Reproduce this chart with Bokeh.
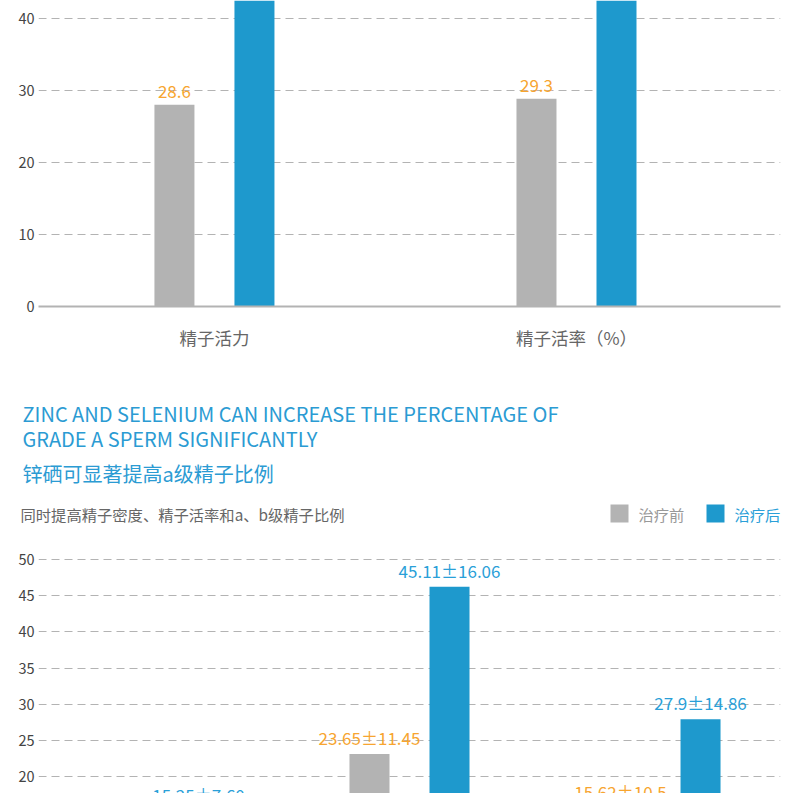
from bokeh.plotting import figure
from bokeh.layouts import column, row
from bokeh.models import Range1d, FixedTicker, ColumnDataSource
from bokeh.core.properties import value
from bokeh.transform import dodge
from bokeh.embed import file_html
from bokeh.resources import INLINE

FONT = "Noto Sans CJK SC"
GRAY = "#b3b3b3"
BLUE = "#1e99cd"
ORANGE = "#f7a530"
BLUE_TXT = "#2a9fd8"
TITLE_BLUE = "#2b9bd3"

# ---------------- data ----------------
top_categories = ["精子活力", "精子活率（%）"]
top_before = [28.05, 28.9]
top_after = [49.5, 52.0]
top_before_labels = ["28.6", "29.3"]
top_after_labels = ["", ""]
top_yticks = [0, 10, 20, 30, 40]

bottom_categories = ["精子密度", "精子活率", "a、b级精子比例"]
bottom_before = [9.8, 23.1, 15.62]
bottom_after = [15.25, 46.25, 27.9]
bottom_before_labels = ["", "23.65±11.45", "15.62±10.5"]
bottom_after_labels = ["15.25±7.60", "45.11±16.06", "27.9±14.86"]
bottom_yticks = [0, 5, 10, 15, 20, 25, 30, 35, 40, 45, 50]

legend_labels = ["治疗前", "治疗后"]
title_lines = ["ZINC AND SELENIUM CAN INCREASE THE PERCENTAGE OF",
               "GRADE A SPERM SIGNIFICANTLY"]
title_cn = "锌硒可显著提高a级精子比例"
subtitle = "同时提高精子密度、精子活率和a、b级精子比例"

W = 800
BL, BR = 38, 20


def style_bar_fig(p, yticks):
    p.outline_line_color = None
    p.xgrid.visible = False
    p.ygrid.grid_line_color = GRAY
    p.ygrid.grid_line_dash = "8 5"
    p.ygrid.grid_line_width = 1
    p.yaxis.ticker = FixedTicker(ticks=yticks)
    p.yaxis.axis_line_color = None
    p.yaxis.major_tick_out = 0
    p.yaxis.major_tick_in = 0
    p.yaxis.minor_tick_line_color = None
    p.yaxis.major_label_text_font = FONT
    p.yaxis.major_label_text_font_size = "14.5px"
    p.yaxis.major_label_text_color = "#444444"
    p.yaxis.major_label_standoff = 4


def add_bars(p, cats, before, after, blab, alab, off, bw, fsize, yoff):
    src = ColumnDataSource(dict(x=list(range(len(cats))), before=before, after=after,
                                blab=blab, alab=alab))
    p.vbar(x=dodge("x", -off), top="before", width=bw, bottom=0, source=src,
           fill_color=GRAY, line_color=None)
    p.vbar(x=dodge("x", off), top="after", width=bw, bottom=0, source=src,
           fill_color=BLUE, line_color=None)
    p.text(x=dodge("x", -off), y="before", text="blab", source=src,
           text_font=value(FONT), text_font_size=fsize, text_color=ORANGE,
           text_align="center", text_baseline="bottom", y_offset=yoff)
    p.text(x=dodge("x", off), y="after", text="alab", source=src,
           text_font=value(FONT), text_font_size=fsize, text_color=BLUE_TXT,
           text_align="center", text_baseline="bottom", y_offset=yoff)


# ---------------- top chart ----------------
top = figure(width=W, height=360, output_backend="svg", toolbar_location=None,
             x_range=Range1d(-0.486, 1.5635), y_range=Range1d(0, 42.56),
             min_border_left=BL, min_border_right=BR, min_border_top=0,
             min_border_bottom=54)
style_bar_fig(top, top_yticks)
add_bars(top, top_categories, top_before, top_after, top_before_labels,
         top_after_labels, 0.1105, 0.1105, "17px", -7)
top.xaxis.ticker = FixedTicker(ticks=list(range(len(top_categories))))
top.xaxis.major_label_overrides = {i: c for i, c in enumerate(top_categories)}
top.xaxis.axis_line_color = GRAY
top.xaxis.axis_line_width = 2
top.xaxis.major_tick_out = 0
top.xaxis.major_tick_in = 0
top.xaxis.minor_tick_line_color = None
top.xaxis.major_label_text_font = FONT
top.xaxis.major_label_text_font_size = "17.5px"
top.xaxis.major_label_text_color = "#666666"
top.xaxis.major_label_standoff = 18

# ---------------- middle text block ----------------
mid = figure(width=W, height=185, output_backend="svg", toolbar_location=None,
             x_range=Range1d(0, W), y_range=Range1d(545, 360),
             x_axis_type=None, y_axis_type=None,
             min_border_left=0, min_border_right=0, min_border_top=0,
             min_border_bottom=0)
mid.outline_line_color = None
mid.xgrid.visible = False
mid.ygrid.visible = False
mid.text(x=[22, 22], y=[413, 438], text=title_lines, text_font=value(FONT),
         text_font_size="20px", text_color=TITLE_BLUE, text_baseline="middle",
         text_align="left")
mid.text(x=[22], y=[473], text=[title_cn], text_font=value(FONT),
         text_font_size="20px", text_color=TITLE_BLUE, text_baseline="middle",
         text_align="left")
mid.text(x=[20], y=[513], text=[subtitle], text_font=value(FONT),
         text_font_size="15.3px", text_color="#666666", text_baseline="middle",
         text_align="left")
mid.rect(x=[619, 715], y=[513, 513], width=18, height=18,
         fill_color=[GRAY, BLUE], line_color=None)
mid.text(x=[638, 734], y=[513, 513], text=legend_labels, text_font=value(FONT),
         text_font_size="15.3px", text_color=["#999999", BLUE_TXT],
         text_baseline="middle", text_align="left")

# ---------------- bottom chart ----------------
bot = figure(width=W, height=248, output_backend="svg", toolbar_location=None,
             x_range=Range1d(-0.478, 2.478), y_range=Range1d(17.63, 51.98),
             min_border_left=BL, min_border_right=BR, min_border_top=0,
             min_border_bottom=0)
style_bar_fig(bot, bottom_yticks)
add_bars(bot, bottom_categories, bottom_before, bottom_after, bottom_before_labels,
         bottom_after_labels, 0.1594, 0.1594, "17px", -4)
bot.xaxis.visible = False

layout = column(top, row(mid), bot, spacing=0)
open("out.html", "w").write(file_html(layout, INLINE))
